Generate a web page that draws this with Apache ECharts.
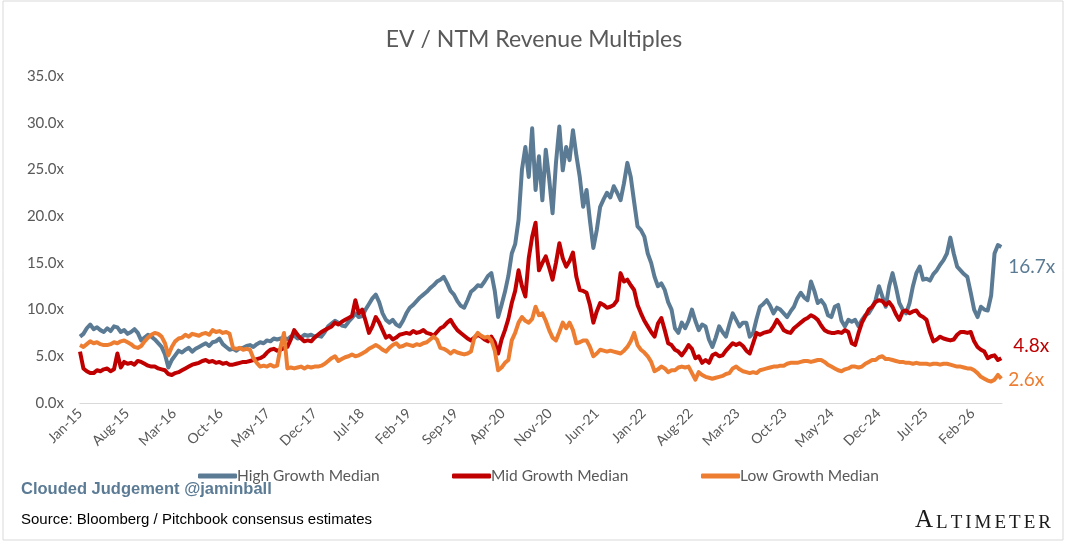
<!DOCTYPE html>
<html>
<head>
<meta charset="utf-8">
<script src="https://cdn.jsdelivr.net/npm/echarts@6/dist/echarts.min.js"></script>
<style>
  html, body { margin: 0; padding: 0; background: #fff; }
  #main { width: 1068px; height: 546px; }
</style>
</head>
<body>
<div id="main"></div>
<script>
// half-monthly samples, Jan-15 to mid May-26 (one row per year)
var highGrowth = [
  7.1, 7.4, 8.0, 8.4, 7.9, 8.1, 7.8, 7.6, 8.0, 7.7, 8.2, 8.1, 7.6, 7.8, 7.4, 7.6, 7.9, 7.5, 6.7, 7.0, 7.3, 7.1, 6.8, 6.4,
  6.0, 5.2, 3.8, 4.6, 5.1, 5.6, 5.4, 5.7, 5.9, 5.5, 5.8, 6.0, 6.2, 6.4, 6.1, 6.5, 6.6, 6.9, 6.3, 6.0, 5.7, 5.8, 5.6, 5.9,
  5.9, 6.1, 6.2, 6.0, 6.3, 6.5, 6.4, 6.7, 6.6, 6.9, 6.8, 6.9, 7.0, 6.8, 7.1, 7.2, 6.9, 7.0, 7.3, 7.2, 7.3, 7.1, 7.2, 7.1,
  7.6, 8.2, 8.5, 8.8, 8.6, 8.3, 8.2, 8.7, 9.1, 9.6, 9.2, 9.3, 10.0, 10.6, 11.2, 11.6, 10.8, 9.6, 8.9, 8.6, 8.9, 8.4, 8.2, 8.8,
  9.6, 10.2, 10.5, 10.9, 11.3, 11.6, 11.9, 12.3, 12.6, 13.0, 13.2, 13.5, 12.8, 12.0, 11.6, 10.9, 10.4, 10.2, 11.0, 11.9, 12.2, 12.6, 12.5, 13.0,
  13.6, 13.9, 12.0, 9.2, 10.5, 11.9, 13.6, 16.0, 17.0, 19.6, 25.0, 27.4, 24.2, 29.4, 22.8, 26.4, 21.7, 27.1, 24.0, 20.3, 25.7, 29.6, 24.9, 27.4,
  26.0, 29.2, 26.5, 24.2, 21.0, 22.8, 19.5, 16.6, 18.5, 21.0, 21.8, 22.5, 22.0, 23.2, 22.5, 21.7, 23.5, 25.7, 24.2, 21.5, 18.9, 18.5, 17.8, 16.0,
  15.0, 13.5, 12.5, 12.8, 12.1, 10.8, 10.0, 8.0, 7.5, 8.6, 8.0, 8.8, 10.0, 8.8, 7.8, 8.4, 8.2, 6.8, 6.0, 7.0, 8.2, 7.6, 7.1, 8.4,
  9.6, 8.9, 8.2, 8.6, 8.6, 7.1, 7.5, 9.0, 10.3, 10.6, 11.0, 10.4, 9.6, 10.2, 10.0, 9.6, 9.2, 9.8, 10.3, 11.2, 11.8, 11.3, 11.0, 13.0,
  12.0, 10.7, 11.0, 10.5, 9.4, 9.2, 10.3, 10.5, 8.8, 8.2, 8.9, 8.7, 8.9, 8.2, 8.9, 9.4, 9.6, 10.2, 11.0, 12.5, 11.4, 10.3, 12.5, 13.9,
  12.4, 10.7, 10.0, 9.6, 10.7, 12.5, 13.9, 14.6, 13.2, 13.3, 13.1, 13.8, 14.2, 14.8, 15.3, 16.0, 17.7, 16.0, 14.6, 14.2, 13.8, 13.5, 11.8, 10.0,
  9.2, 10.3, 10.0, 9.9, 11.5, 16.0, 16.9, 16.7
];

var midGrowth = [
  5.5, 3.7, 3.4, 3.2, 3.2, 3.5, 3.4, 3.6, 3.7, 3.4, 3.6, 5.3, 3.8, 4.4, 4.2, 4.3, 4.1, 4.5, 4.4, 4.2, 4.0, 3.9, 3.9, 3.7,
  3.6, 3.5, 3.1, 3.0, 3.2, 3.3, 3.5, 3.7, 3.9, 4.1, 4.2, 4.3, 4.5, 4.6, 4.4, 4.5, 4.3, 4.4, 4.2, 4.3, 4.1, 4.1, 4.2, 4.3,
  4.4, 4.4, 4.5, 4.6, 4.7, 4.8, 5.0, 5.4, 5.7, 5.8, 5.6, 5.7, 5.9, 6.0, 6.8, 7.8, 7.3, 6.9, 6.6, 6.7, 6.6, 7.0, 7.3, 7.6,
  7.8, 8.0, 8.2, 8.6, 8.4, 8.7, 8.9, 9.1, 9.3, 11.0, 9.6, 10.0, 8.8, 7.5, 8.2, 9.2, 8.6, 7.8, 7.0, 7.2, 6.8, 7.0, 7.3, 7.4,
  7.5, 7.4, 7.7, 7.5, 7.6, 7.8, 7.5, 7.4, 7.2, 7.6, 8.0, 8.2, 8.6, 8.9, 8.3, 7.8, 7.5, 7.2, 6.9, 6.7, 7.0, 7.3, 7.1, 6.8,
  6.6, 7.1, 6.5, 5.3, 6.8, 7.8, 9.0, 10.7, 12.0, 14.2, 12.5, 11.4, 15.5, 17.8, 19.3, 14.2, 15.0, 15.7, 14.5, 13.2, 15.0, 17.1, 15.5, 14.6,
  15.2, 16.1, 13.5, 12.1, 12.0, 11.8, 10.5, 8.6, 9.8, 10.7, 10.5, 10.2, 10.3, 10.5, 11.0, 13.9, 13.0, 13.2, 12.6, 12.1, 10.5, 9.6, 8.8, 8.2,
  7.6, 7.1, 8.5, 9.1, 7.8, 6.4, 6.2, 5.7, 5.5, 5.1, 5.6, 6.2, 5.8, 4.8, 5.0, 4.3, 4.6, 4.3, 5.1, 5.3, 5.0, 5.1, 5.6, 6.0,
  6.4, 6.2, 6.4, 6.1, 5.6, 5.3, 6.4, 7.5, 7.3, 7.5, 7.6, 7.7, 8.2, 8.9, 8.4, 7.8, 7.6, 7.5, 8.0, 8.3, 8.6, 8.9, 9.1, 9.4,
  9.2, 8.9, 8.3, 7.8, 7.6, 7.5, 7.5, 7.6, 7.5, 7.8, 7.6, 6.4, 6.2, 7.5, 8.6, 9.3, 10.0, 10.3, 10.8, 11.0, 10.9, 10.5, 10.8, 10.3,
  9.5, 8.9, 9.8, 9.9, 9.6, 9.8, 9.9, 9.4, 9.2, 8.9, 7.6, 6.6, 6.8, 7.1, 6.9, 6.8, 6.7, 6.8, 7.3, 7.6, 7.6, 7.5, 7.6, 6.6,
  6.0, 5.7, 5.5, 4.8, 5.0, 5.1, 4.6, 4.8
];

var lowGrowth = [
  6.2, 6.0, 6.3, 6.6, 6.4, 6.5, 6.3, 6.2, 6.2, 6.3, 6.5, 6.4, 6.6, 6.7, 6.5, 6.3, 6.0, 5.9, 6.1, 6.6, 7.0, 7.3, 7.5, 7.4,
  7.1, 6.4, 5.1, 6.0, 6.6, 6.9, 7.0, 7.3, 7.1, 7.4, 7.3, 7.2, 7.4, 7.5, 7.3, 7.8, 7.6, 7.7, 7.5, 7.6, 7.4, 5.9, 5.8, 5.9,
  5.7, 5.8, 5.7, 4.8, 4.3, 3.9, 4.0, 3.9, 4.1, 3.9, 4.0, 6.0, 7.5, 3.7, 3.8, 3.7, 3.8, 3.9, 3.7, 3.9, 3.8, 3.9, 3.9, 4.0,
  4.2, 4.5, 4.8, 5.0, 4.5, 4.7, 4.9, 5.0, 5.2, 5.0, 5.1, 5.3, 5.5, 5.8, 6.0, 6.2, 6.0, 5.7, 5.5, 5.9, 6.2, 6.4, 6.0, 6.1,
  6.3, 6.2, 6.1, 6.3, 6.2, 6.4, 6.5, 6.8, 7.1, 6.8, 5.9, 5.8, 5.6, 5.3, 5.6, 5.4, 5.3, 5.2, 5.3, 5.5, 7.0, 7.5, 7.2, 7.0,
  7.1, 6.7, 5.6, 3.5, 3.8, 4.3, 4.6, 6.7, 7.5, 8.6, 9.2, 8.8, 8.6, 9.0, 10.3, 9.4, 9.6, 8.8, 7.8, 7.0, 6.7, 7.6, 8.6, 8.0,
  8.6, 7.8, 6.4, 6.5, 6.7, 6.7, 6.0, 5.0, 5.3, 5.7, 5.6, 5.5, 5.6, 5.5, 5.4, 5.3, 5.6, 6.0, 6.6, 7.5, 6.2, 5.7, 5.4, 5.0,
  4.4, 3.4, 3.6, 3.9, 3.7, 3.3, 3.5, 3.5, 3.8, 3.9, 3.8, 3.9, 3.2, 2.5, 3.3, 3.0, 2.8, 2.7, 2.6, 2.7, 2.8, 2.9, 3.1, 3.2,
  3.7, 3.9, 3.6, 3.4, 3.3, 3.2, 3.3, 3.2, 3.5, 3.6, 3.7, 3.8, 3.9, 3.9, 4.0, 4.0, 4.2, 4.3, 4.3, 4.3, 4.4, 4.5, 4.5, 4.4,
  4.5, 4.6, 4.6, 4.4, 4.1, 3.9, 3.7, 3.5, 3.4, 3.6, 3.7, 3.9, 3.9, 3.8, 3.9, 4.2, 4.4, 4.6, 4.6, 4.9, 5.0, 4.7, 4.7, 4.6,
  4.5, 4.4, 4.4, 4.3, 4.3, 4.2, 4.3, 4.2, 4.2, 4.2, 4.1, 4.2, 4.2, 4.1, 4.2, 4.2, 4.1, 4.0, 3.9, 3.9, 3.8, 3.7, 3.7, 3.5,
  3.2, 2.8, 2.6, 2.4, 2.3, 2.5, 3.0, 2.6
];

var seriesNames = ['High Growth Median', 'Mid Growth Median', 'Low Growth Median'];
var seriesColors = ['#5b7b95', '#c00000', '#ed7d31'];
var monthNames = ['Jan', 'Feb', 'Mar', 'Apr', 'May', 'Jun', 'Jul', 'Aug', 'Sep', 'Oct', 'Nov', 'Dec'];

// x is months since Jan-15; samples are spread evenly to mid May-26
var lastMonth = 137.3;
var sampleStep = lastMonth / (highGrowth.length - 1);

function toPoints(vals) {
  return vals.map(function (v, i) { return [i * sampleStep, v]; });
}

function monthLabel(v) {
  if (v % 7 !== 0) return '';
  return monthNames[v % 12] + '-' + (15 + Math.floor(v / 12));
}

var myChart = echarts.init(document.getElementById('main'));

function makeSeries(idx, vals, offset, dist) {
  return {
    name: seriesNames[idx],
    type: 'line',
    data: toPoints(vals),
    showSymbol: false,
    smooth: false,
    color: seriesColors[idx],
    lineStyle: { width: 4, color: seriesColors[idx], join: 'round' },
    endLabel: {
      show: true,
      formatter: function (p) { return p.value[1].toFixed(1) + 'x'; },
      color: seriesColors[idx],
      fontFamily: 'Lato',
      fontSize: 19,
      distance: dist,
      offset: offset
    }
  };
}

function legendAt(idx, left) {
  return {
    data: [seriesNames[idx]],
    left: left,
    top: 463,
    icon: 'roundRect',
    itemWidth: 39,
    itemHeight: 5,
    textStyle: { color: '#595959', fontFamily: 'Lato', fontSize: 15.5, padding: [0, 0, 0, -5] }
  };
}

myChart.setOption({
  animation: false,
  title: {
    text: 'EV / NTM Revenue Multiples',
    left: 'center',
    top: 23,
    textStyle: { color: '#595959', fontFamily: 'Lato', fontSize: 23, fontWeight: 'normal' }
  },
  legend: [legendAt(0, 193), legendAt(1, 447), legendAt(2, 696)],
  grid: { left: 80, right: 66, top: 76, bottom: 143 },
  xAxis: {
    type: 'value',
    min: 0,
    max: 137.4,
    interval: 7,
    splitLine: { show: false },
    axisTick: { show: false },
    axisLine: { show: true, onZero: false, lineStyle: { color: '#d9d9d9', width: 1 } },
    axisLabel: {
      rotate: 45,
      margin: 8,
      showMaxLabel: false,
      color: '#595959',
      fontFamily: 'Lato',
      fontSize: 14,
      formatter: monthLabel
    }
  },
  yAxis: {
    type: 'value',
    min: 0,
    max: 35,
    interval: 5,
    splitLine: { show: false },
    axisLine: { show: false },
    axisTick: { show: false },
    axisLabel: {
      margin: 16,
      color: '#595959',
      fontFamily: 'Lato',
      fontSize: 15,
      formatter: function (v) { return v.toFixed(1) + 'x'; }
    }
  },
  graphic: [
    {
      type: 'rect',
      shape: { x: 3, y: 1, width: 1060, height: 539 },
      style: { fill: 'none', stroke: '#d9d9d9', lineWidth: 1 },
      silent: true
    },
    {
      type: 'text',
      left: 21,
      top: 481,
      style: {
        text: 'Clouded Judgement @jaminball',
        fill: '#5b7b95',
        font: 'bold 16.5px "Liberation Sans", Arial, sans-serif'
      }
    },
    {
      type: 'text',
      left: 21,
      top: 512,
      style: {
        text: 'Source: Bloomberg / Pitchbook consensus estimates',
        fill: '#000000',
        font: '15px "Liberation Sans", Arial, sans-serif'
      }
    },
    {
      type: 'text',
      left: 915,
      top: 508,
      style: {
        text: '{a|A}{b|L}{b|T}{b|I}{b|M}{b|E}{b|T}{b|E}{b|R}',
        rich: {
          a: { fontFamily: '"Liberation Serif", serif', fontSize: 25, fill: '#1a1a1a', verticalAlign: 'bottom' },
          b: { fontFamily: '"Liberation Serif", serif', fontSize: 19, fill: '#1a1a1a', padding: [0, 0, 0, 3], verticalAlign: 'bottom' }
        }
      }
    }
  ],
  series: [
    makeSeries(0, highGrowth, [0, 20], 7),
    makeSeries(1, midGrowth, [0, -12], 12),
    makeSeries(2, lowGrowth, [0, 1], 7)
  ]
});
</script>
</body>
</html>
